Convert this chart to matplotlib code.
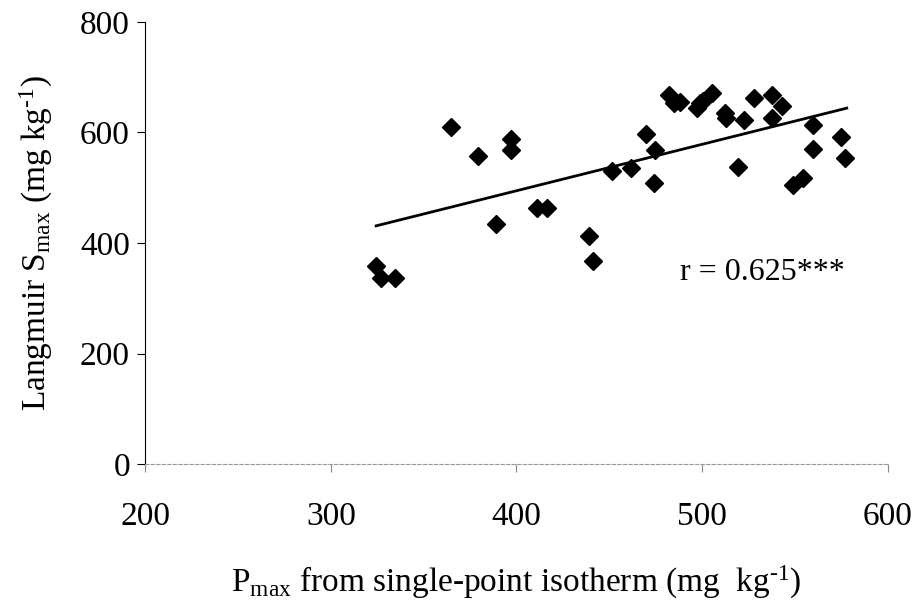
import numpy as np
import matplotlib
matplotlib.use('Agg')
import matplotlib.pyplot as plt

plt.rcParams['font.family'] = ['Liberation Serif', 'DejaVu Serif']
plt.rcParams['mathtext.fontset'] = 'custom'
plt.rcParams['mathtext.rm'] = 'Liberation Serif'
plt.rcParams['mathtext.it'] = 'Liberation Serif:italic'

# P max from single-point isotherm vs Langmuir S max
p_max = [324.4, 327.0, 334.3, 364.8, 379.5, 389.0, 397.0, 397.0, 411.3, 416.6,
         438.9, 441.0, 451.6, 461.9, 469.6, 474.3, 474.6, 482.2, 484.8, 488.1,
         497.1, 498.9, 500.6, 505.5, 512.3, 512.7, 519.5, 522.6, 528.0, 537.8,
         537.8, 542.8, 549.1, 554.5, 559.5, 559.5, 574.6, 577.0]
s_max = [359, 337, 337, 610, 557, 434, 589, 568, 463, 463,
         413, 367, 530, 536, 597, 509, 568, 668, 654, 656,
         644, 653, 657, 671, 635, 627, 538, 623, 663, 668,
         627, 647, 505, 518, 614, 570, 591, 553]

# regression line end points
fit_x = [324.4, 577.9]
fit_y = [431, 644]

fig = plt.figure(figsize=(9.19, 6.09), dpi=100)
ax = fig.add_axes([0.158, 0.238, 0.808, 0.726])

ax.plot(fit_x, fit_y, color='black', lw=2)
ax.plot(p_max, s_max, 'D', color='black', markersize=9, linestyle='none')

ax.set_xlim(200, 600)
ax.set_ylim(0, 800)
ax.set_xticks([200, 300, 400, 500, 600])
ax.set_yticks([0, 200, 400, 600, 800])

for s in ['top', 'right']:
    ax.spines[s].set_visible(False)
ax.spines['left'].set_linewidth(0.8)
ax.spines['bottom'].set_color('#999999')
ax.spines['bottom'].set_linewidth(0.8)
ax.spines['bottom'].set_linestyle((0, (3, 2)))
ax.tick_params(axis='both', labelsize=24, length=6, width=0.8)
ax.tick_params(axis='x', pad=21, colors='#888888', labelcolor='black')
ax.tick_params(axis='y', pad=5)

ax.set_xlabel(r'P$_{\rm max}$ from single-point isotherm (mg  kg$^{\text{-1}}$)', fontsize=24, labelpad=23)
ax.set_ylabel(r'Langmuir S$_{\rm max}$ (mg kg$^{\text{-1}}$)', fontsize=24, labelpad=18)

ax.text(488, 347, 'r = 0.625***', fontsize=23, va='center')

plt.savefig('out.png', dpi=100)
